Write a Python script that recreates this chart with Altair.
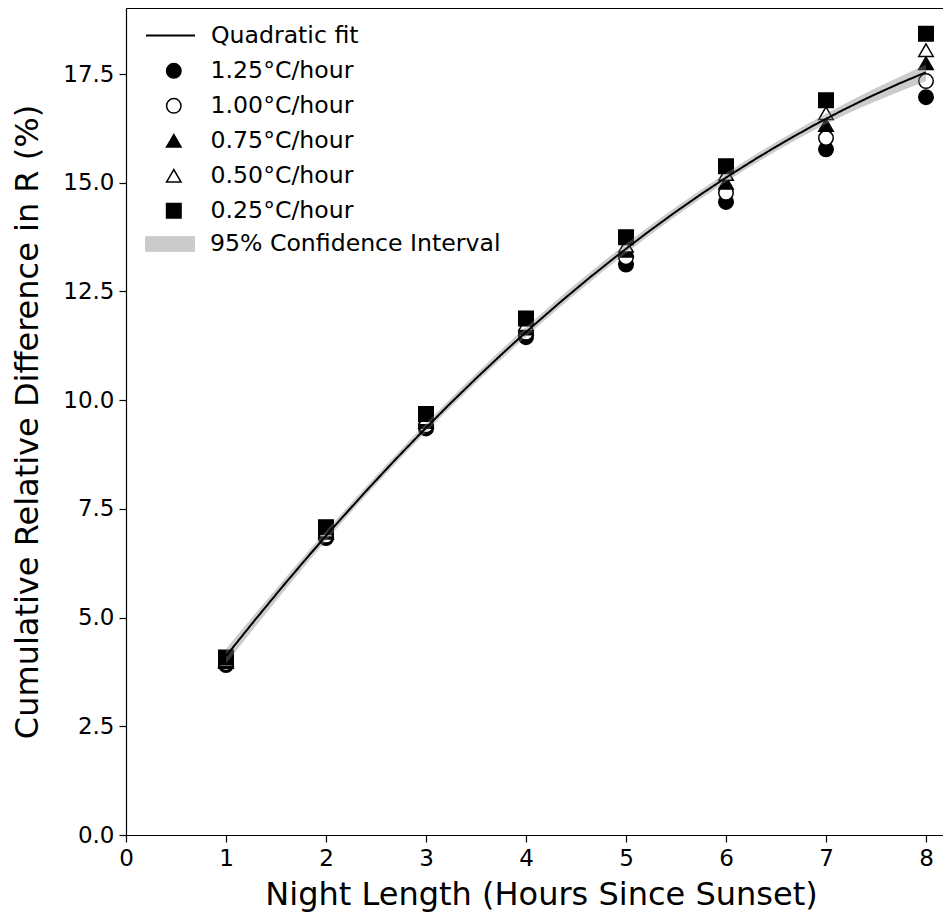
import altair as alt
import pandas as pd

# ---- data ----
hours = [1, 2, 3, 4, 5, 6, 7, 8]
series_names = ["1.25°C/hour", "1.00°C/hour", "0.75°C/hour", "0.50°C/hour", "0.25°C/hour"]
r125 = [3.91, 6.83, 9.35, 11.45, 13.12, 14.56, 15.77, 16.97]
r100 = [3.95, 6.88, 9.42, 11.55, 13.29, 14.77, 16.03, 17.34]
r075 = [3.98, 6.95, 9.50, 11.65, 13.44, 15.00, 16.33, 17.75]
r050 = [4.02, 7.00, 9.58, 11.75, 13.55, 15.20, 16.60, 18.05]
r025 = [4.08, 7.08, 9.68, 11.88, 13.75, 15.38, 16.90, 18.43]
ci_lower = [3.94, 6.77, 9.27, 11.46, 13.38, 15.02, 16.35, 17.34]
ci_upper = [4.28, 6.99, 9.47, 11.68, 13.60, 15.22, 16.59, 17.72]

series_values = [r125, r100, r075, r050, r025]
shapes = ["circle", "circle", "triangle-up", "triangle-up", "square"]
fills = ["black", "white", "black", "white", "black"]
edges = ["black"] * 5

rows = []
for name, vals in zip(series_names, series_values):
    for h, v in zip(hours, vals):
        rows.append({"x": h, "y": v, "series": name})
pts = pd.DataFrame(rows)
band = pd.DataFrame({"x": hours, "lo": ci_lower, "hi": ci_upper})

FONT = "DejaVu Sans"
LEG_FS = 23.6
W, H = 817, 827
xscale = alt.Scale(domain=[0, 8.17], nice=False, zero=False)
yscale = alt.Scale(domain=[0, 19.02], nice=False, zero=False)

x_axis = alt.Axis(
    title="Night Length (Hours Since Sunset)", values=list(range(0, 9)), format="d",
    grid=False, tickSize=7, tickWidth=1.2, tickColor="black", domainColor="black",
    domainWidth=1.2, labelFontSize=23, labelFont=FONT, labelColor="black",
    labelPadding=5, titleFontSize=32, titleFont=FONT, titleFontWeight="normal",
    titleColor="black", titlePadding=9, labelFlush=False, titleX=415,
)
y_axis = alt.Axis(
    title="Cumulative Relative Difference in R (%)",
    values=[0, 2.5, 5, 7.5, 10, 12.5, 15, 17.5], format=".1f",
    grid=False, tickSize=7, tickWidth=1.2, tickColor="black", domainColor="black",
    domainWidth=1.2, labelFontSize=23, labelFont=FONT, labelColor="black",
    labelPadding=5, titleFontSize=32, titleFont=FONT, titleFontWeight="normal",
    titleColor="black", titlePadding=18, labelFlush=False,
)
top_axis = alt.Axis(orient="top", title=None, labels=False, ticks=False, grid=False,
                    domainColor="black", domainWidth=1.2)

marker_legend = alt.Legend(
    orient="none", legendX=36, legendY=51, title=None, padding=0,
    labelFont=FONT, labelFontSize=LEG_FS, labelColor="black", labelOffset=25,
    rowPadding=10.0, symbolStrokeColor="black", symbolStrokeWidth=1.5,
    symbolSize=210, symbolOpacity=1, labelLimit=400,
)

points = alt.Chart(pts).mark_point(
    filled=True, strokeWidth=1.5, size=210, opacity=1
).encode(
    x=alt.X("x:Q", scale=xscale, axis=x_axis),
    y=alt.Y("y:Q", scale=yscale, axis=y_axis),
    shape=alt.Shape("series:N", scale=alt.Scale(domain=series_names, range=shapes),
                    legend=marker_legend),
    fill=alt.Fill("series:N", scale=alt.Scale(domain=series_names, range=fills),
                  legend=marker_legend),
    stroke=alt.Stroke("series:N", scale=alt.Scale(domain=series_names, range=edges),
                      legend=marker_legend),
)

band_layer = alt.Chart(band).mark_area(opacity=0.4, interpolate="monotone").transform_calculate(
    cilabel="'95% Confidence Interval'"
).encode(
    x=alt.X("x:Q", scale=xscale, axis=top_axis),
    y=alt.Y("lo:Q", scale=yscale, axis=None),
    y2="hi:Q",
    color=alt.Color("cilabel:N",
                    scale=alt.Scale(domain=["95% Confidence Interval"], range=["gray"]),
                    legend=alt.Legend(
                        orient="none", legendX=19, legendY=211, title=None, padding=0,
                        labelFont=FONT, labelFontSize=LEG_FS, labelColor="black",
                        labelOffset=15,
                        symbolType="M-1,-0.3H1V0.3H-1Z", symbolSize=2401, labelLimit=500,
                        symbolOpacity=0.4, symbolStrokeColor="gray", symbolStrokeWidth=1,
                    )),
)

fit = alt.Chart(pts).transform_regression(
    "x", "y", method="poly", order=2
).transform_calculate(
    fitlabel="'Quadratic fit'"
).mark_line(strokeWidth=2, color="black").encode(
    x=alt.X("x:Q", scale=xscale, axis=None),
    y=alt.Y("y:Q", scale=yscale, axis=None),
    strokeDash=alt.StrokeDash("fitlabel:N",
                      scale=alt.Scale(domain=["Quadratic fit"], range=[[1, 0]]),
                      legend=alt.Legend(
                          orient="none", legendX=19, legendY=2, title=None, padding=0,
                          labelFont=FONT, labelFontSize=LEG_FS, labelColor="black",
                          labelOffset=15,
                          symbolType="stroke", symbolSize=2401, symbolStrokeWidth=2,
                          symbolStrokeColor="black", labelLimit=400,
                      )),
)

chart = alt.layer(points, band_layer, fit).resolve_axis(
    x="independent", y="independent"
).properties(
    width=W, height=H,
    autosize=alt.AutoSizeParams(type="none"),
    padding={"left": 118, "top": 0, "right": 0, "bottom": 82},
).configure_view(stroke=None).configure(font=FONT, background="white")

chart.save("out.html", embed_options={"renderer": "svg", "actions": False})
